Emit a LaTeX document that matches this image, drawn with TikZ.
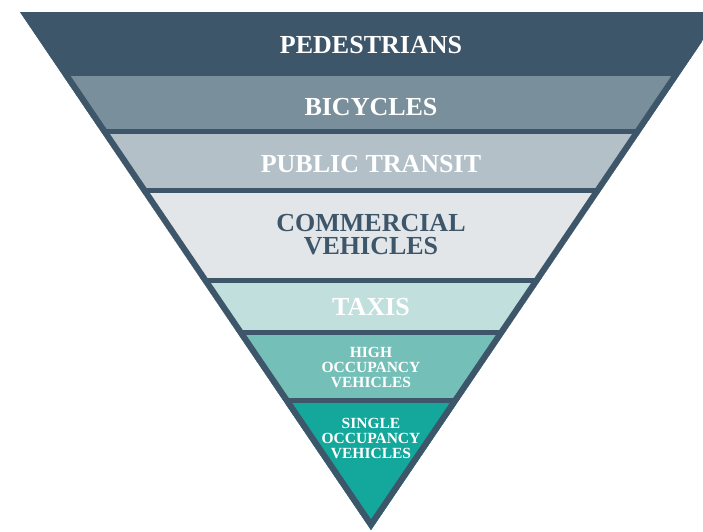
\documentclass[tikz,border=0pt]{standalone}
\usepackage{fontspec}
\setmainfont{Liberation Serif}
\definecolor{slate}{HTML}{3E566A}
\definecolor{bikegrey}{HTML}{798F9B}
\definecolor{transitgrey}{HTML}{B3C0C7}
\definecolor{freightgrey}{HTML}{E2E6E9}
\definecolor{taxiteal}{HTML}{C0DFDD}
\definecolor{hovteal}{HTML}{75BFB9}
\definecolor{sovteal}{HTML}{13A89B}

\begin{document}
\begin{tikzpicture}[x=1pt,y=-1pt,
        tiertext/.style={font=\bfseries\fontsize{26}{23}\selectfont, text=white, align=center, inner sep=0pt},
        smalltext/.style={tiertext, font=\bfseries\fontsize{15.5}{15}\selectfont}]
    \useasboundingbox (0,0) rectangle (703,531);

    % the inverted triangle and its bands
    \begin{scope}
        \clip (20,12) -- (722,12) -- (371,530) -- cycle;
        \fill[slate] (0,0) rectangle (740,531);
        % bands, top to bottom
        \foreach \bandtop/\bandbot/\bandcol in {76/129/bikegrey, 134/188/transitgrey, 193/278/freightgrey,
                283/330/taxiteal, 335/398/hovteal, 403/531/sovteal}
            \fill[\bandcol] (0,\bandtop) rectangle (740,\bandbot);
        \draw[slate, line width=12pt] (20,12) -- (722,12) -- (371,530) -- cycle;
    \end{scope}

    % labels
    \node[tiertext] (pedestrians) at (371,45) {PEDESTRIANS};
    \node[tiertext] (bicycles) at (371,107) {BICYCLES};
    \node[tiertext] (transit) at (371,164) {PUBLIC TRANSIT};
    \node[tiertext, text=slate] (commercial) at (371,235) {COMMERCIAL\\VEHICLES};
    \node[tiertext] (taxis) at (371,307) {TAXIS};
    \node[smalltext] (hov) at (371,367) {HIGH\\OCCUPANCY\\VEHICLES};
    \node[smalltext] (sov) at (371,438) {SINGLE\\OCCUPANCY\\VEHICLES};
\end{tikzpicture}
\end{document}
